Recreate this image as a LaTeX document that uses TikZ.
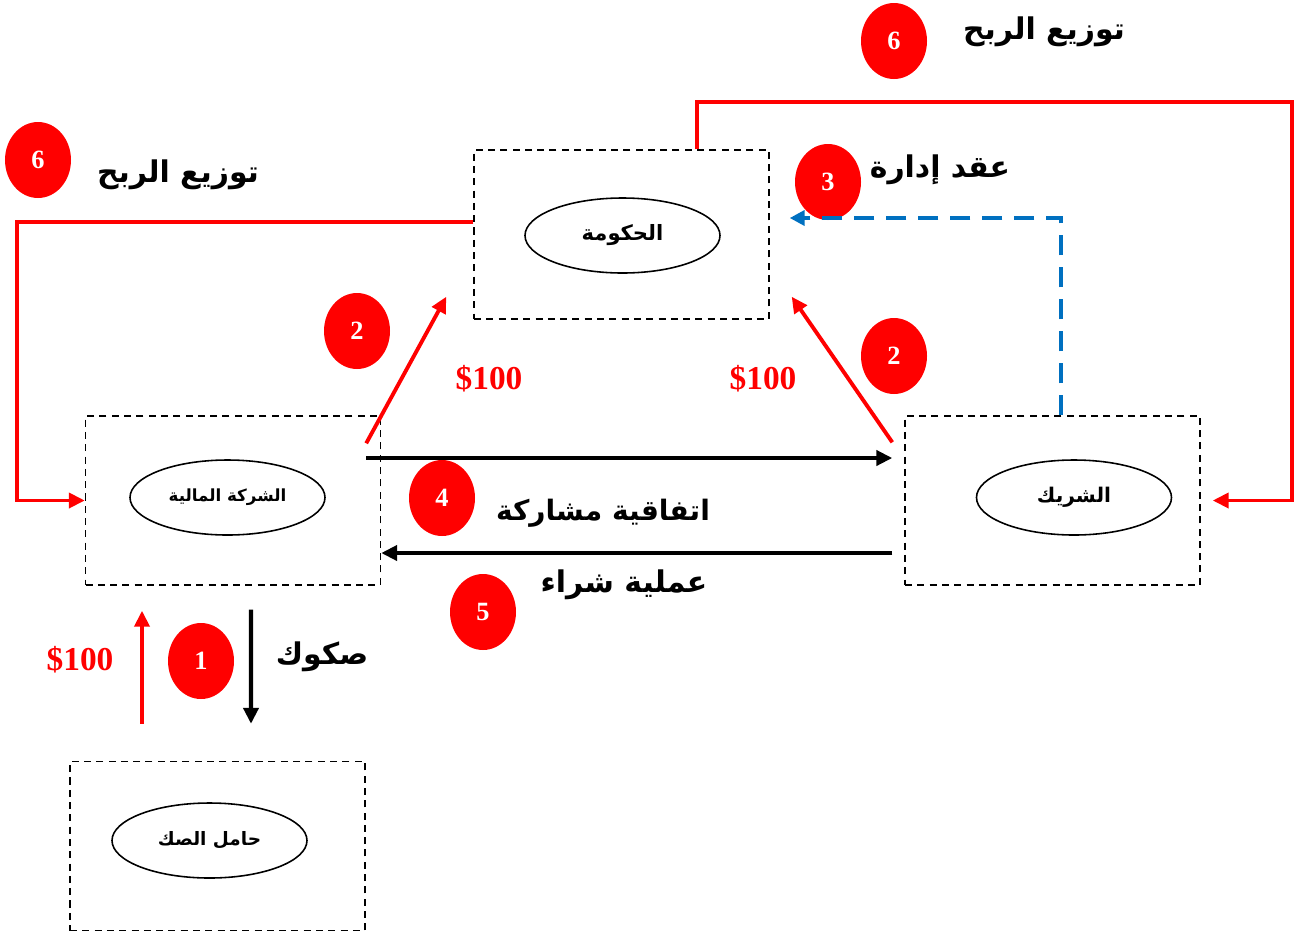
\documentclass[tikz,border=0pt]{standalone}
\usepackage{fontspec}
\setmainfont{Liberation Serif}
\newfontfamily\arabicfont[Script=Arabic]{DejaVu Sans}
\TeXXeTstate=1
\usetikzlibrary{arrows.meta,shapes.geometric}
\newcommand{\artxt}[1]{{\arabicfont\bfseries\beginR #1\endR}}
\tikzset{
  box/.style={draw,line width=0.8pt,dash pattern=on 4pt off 3pt,minimum width=5.9cm,minimum height=3.38cm},
  oval/.style={draw,ellipse,line width=0.9pt,minimum width=3.9cm,minimum height=1.5cm,inner sep=0pt},
  num/.style={ellipse,fill=red,minimum width=1.32cm,minimum height=1.52cm,inner sep=0pt,text=white,font=\bfseries\fontsize{15}{17}\selectfont},
  lbl/.style={font=\fontsize{17}{20}\selectfont},
  money/.style={text=red,font=\bfseries\fontsize{19}{22}\selectfont},
  blk/.style={line width=2.3pt,-{Triangle[length=0.32cm,width=0.3cm]}},
  rd/.style={red,line width=2.2pt,-{Triangle[length=0.32cm,width=0.3cm]}},
  blu/.style={color={rgb,255:red,0;green,112;blue,192},line width=2.3pt,dash pattern=on 0.4cm off 0.24cm,-{Triangle[length=0.3cm,width=0.3cm]}}
}
\begin{document}
\begin{tikzpicture}
\useasboundingbox (0,0) rectangle (25.98,-18.7);
% boxes
\node[box] (gov) at (12.43,-4.69) {};
\node[box] (fin) at (4.66,-10.01) {};
\node[box] (par) at (21.05,-10.01) {};
\node[box] (hold) at (4.35,-16.92) {};
\node[oval,font=\fontsize{12}{14}\selectfont] (govo) at (12.45,-4.71) {\artxt{الحكومة}};
\node[oval,font=\fontsize{9.5}{11}\selectfont] (fino) at (4.55,-9.95) {\artxt{الشركة المالية}};
\node[oval,font=\fontsize{11.5}{13}\selectfont] (paro) at (21.48,-9.95) {\artxt{الشريك}};
\node[oval,font=\fontsize{10.5}{12}\selectfont] (holdo) at (4.19,-16.81) {\artxt{حامل الصك}};
% numbers
\node[num] (n6a) at (0.76,-3.2) {6};
\node[num] (n6b) at (17.88,-0.82) {6};
\node[num] (n3) at (16.56,-3.64) {3};
\node[num] (n2a) at (7.14,-6.62) {2};
\node[num] (n2b) at (17.88,-7.12) {2};
\node[num] (n4) at (8.84,-9.96) {4};
\node[num] (n5) at (9.66,-12.24) {5};
\node[num] (n1) at (4.02,-13.22) {1};
% labels
\node[lbl] (t6a) at (3.56,-3.5) {\artxt{توزيع الربح}};
\node[lbl] (t6b) at (20.88,-0.64) {\artxt{توزيع الربح}};
\node[lbl] (t3) at (18.8,-3.4) {\artxt{عقد إدارة}};
\node[lbl,font=\fontsize{16}{19}\selectfont] (t4) at (12.06,-10.26) {\artxt{اتفاقية مشاركة}};
\node[lbl] (t5) at (12.48,-11.7) {\artxt{عملية شراء}};
\node[lbl] (ts) at (6.44,-13.14) {\artxt{صكوك}};
\node[money] (m2a) at (9.78,-7.58) {\$100};
\node[money] (m2b) at (15.26,-7.58) {\$100};
\node[money] (m1) at (1.6,-13.2) {\$100};
% connectors
\coordinate (lft) at (0.34,-7);
\coordinate (rgt) at (25.84,-2.04);
\draw[rd] ([yshift=0.25cm]gov.west) -| (lft) |- (fin.west);
\draw[rd,shorten >=0.24cm] ([xshift=1.51cm]gov.north) |- (rgt) |- (par.east);
\draw[blu] ([xshift=0.17cm]par.north) |- ([xshift=0.4cm,yshift=0.33cm]gov.east);
\draw[rd] ([xshift=-0.3cm,yshift=-0.56cm]fin.north east) -- ([xshift=-0.54cm,yshift=0.46cm]gov.south west);
\draw[rd] ([xshift=-0.24cm,yshift=-0.54cm]par.north west) -- ([xshift=0.44cm,yshift=0.46cm]gov.south east);
\draw[blk] ([xshift=-0.3cm,yshift=0.85cm]fin.east) -- ([xshift=-0.24cm,yshift=0.85cm]par.west);
\draw[blk] ([xshift=-0.24cm,yshift=-1.05cm]par.west) -- ([yshift=-1.05cm]fin.east);
\draw[rd] ([xshift=-1.51cm,yshift=0.74cm]hold.north) -- ([xshift=-1.82cm,yshift=-0.5cm]fin.south);
\draw[blk] ([xshift=0.36cm,yshift=-0.48cm]fin.south) -- ([xshift=0.67cm,yshift=0.74cm]hold.north);
\end{tikzpicture}
\end{document}
